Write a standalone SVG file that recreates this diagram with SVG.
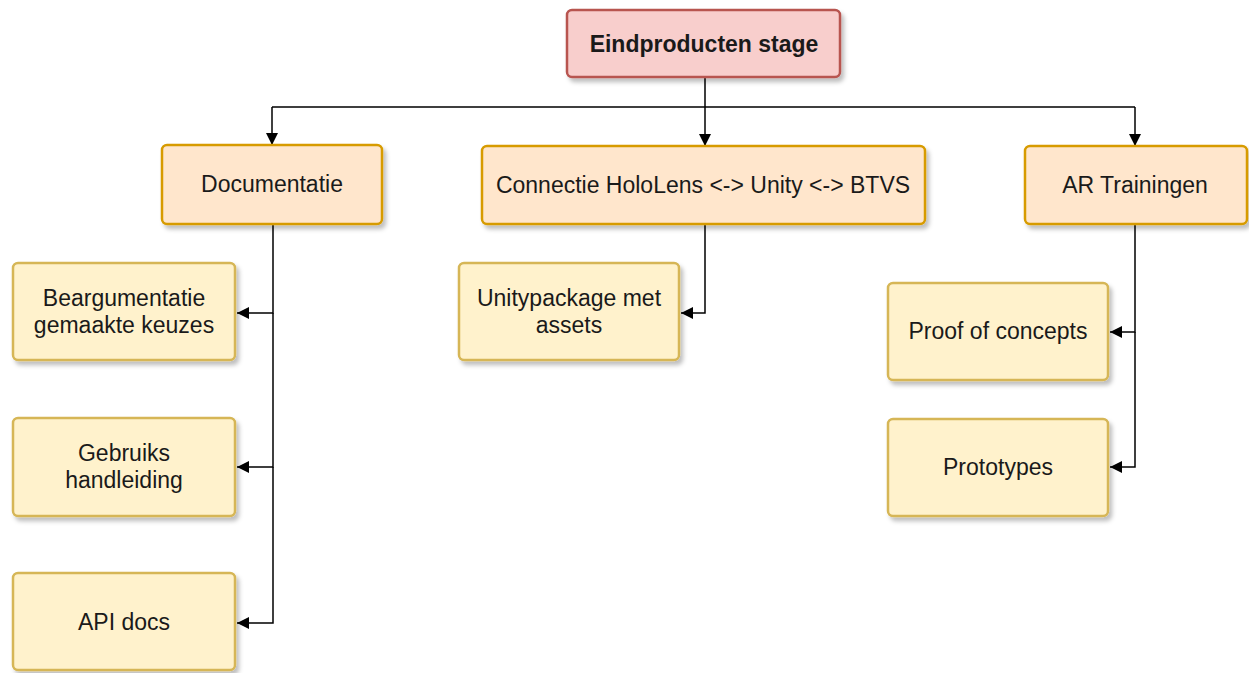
<svg xmlns="http://www.w3.org/2000/svg" width="1249" height="673" viewBox="0 0 1249 673">
<defs>
<filter id="sh" x="-10%" y="-10%" width="130%" height="140%">
<feDropShadow dx="3" dy="4" stdDeviation="2" flood-color="#000" flood-opacity="0.25"/>
</filter>
<marker id="ah" viewBox="0 0 10 10" refX="10" refY="5" markerWidth="12" markerHeight="12" markerUnits="userSpaceOnUse" orient="auto">
<path d="M0,0 L10,5 L0,10 z" fill="#000"/>
</marker>
<style>
.root{fill:#f8cecc;stroke:#b85450;stroke-width:2.5;filter:url(#sh)}
.mid{fill:#ffe6cc;stroke:#d79b00;stroke-width:2.5;filter:url(#sh)}
.leaf{fill:#fff2cc;stroke:#d6b656;stroke-width:2.5;filter:url(#sh)}
text{font-family:"Liberation Sans",Arial,sans-serif;font-size:23px;fill:#1a1a1a;text-anchor:middle}
.b{font-weight:bold}
.c{fill:none;stroke:#000;stroke-width:1.5;marker-end:url(#ah)}
.l{fill:none;stroke:#000;stroke-width:1.5}
</style>
</defs>
<g id="connectors">
<path class="l" d="M705,77 V107 M272,107 H1135"/>
<path class="c" d="M272,107 V145"/>
<path class="c" d="M705,107 V146"/>
<path class="c" d="M1135,107 V146"/>
<path class="c" d="M273,224 V313 H237"/>
<path class="c" d="M273,313 V467 H237"/>
<path class="c" d="M273,467 V623 H237"/>
<path class="c" d="M705,224 V313 H681"/>
<path class="c" d="M1135,224 V332 H1110"/>
<path class="c" d="M1135,332 V467 H1110"/>
</g>
<g id="root"><rect class="root" x="567" y="10" width="273" height="67" rx="5"/><text class="b" x="704" y="52">Eindproducten stage</text></g>
<g id="documentatie"><rect class="mid" x="162" y="145" width="220" height="79" rx="5"/><text x="272" y="192">Documentatie</text></g>
<g id="connectie"><rect class="mid" x="482" y="146" width="443" height="78" rx="5"/><text x="703" y="193">Connectie HoloLens &lt;-&gt; Unity &lt;-&gt; BTVS</text></g>
<g id="ar"><rect class="mid" x="1025" y="146" width="222" height="78" rx="5"/><text x="1135" y="193">AR Trainingen</text></g>
<g id="beargumentatie"><rect class="leaf" x="13" y="263" width="222" height="97" rx="5"/><text x="124" y="306">Beargumentatie</text><text x="124" y="333">gemaakte keuzes</text></g>
<g id="gebruiks"><rect class="leaf" x="13" y="418" width="222" height="98" rx="5"/><text x="124" y="461">Gebruiks</text><text x="124" y="488">handleiding</text></g>
<g id="api"><rect class="leaf" x="13" y="573" width="222" height="97" rx="5"/><text x="124" y="630">API docs</text></g>
<g id="unitypackage"><rect class="leaf" x="459" y="263" width="220" height="97" rx="5"/><text x="569" y="306">Unitypackage met</text><text x="569" y="333">assets</text></g>
<g id="proof"><rect class="leaf" x="888" y="283" width="220" height="97" rx="5"/><text x="998" y="339">Proof of concepts</text></g>
<g id="prototypes"><rect class="leaf" x="888" y="419" width="220" height="97" rx="5"/><text x="998" y="475">Prototypes</text></g>
</svg>
